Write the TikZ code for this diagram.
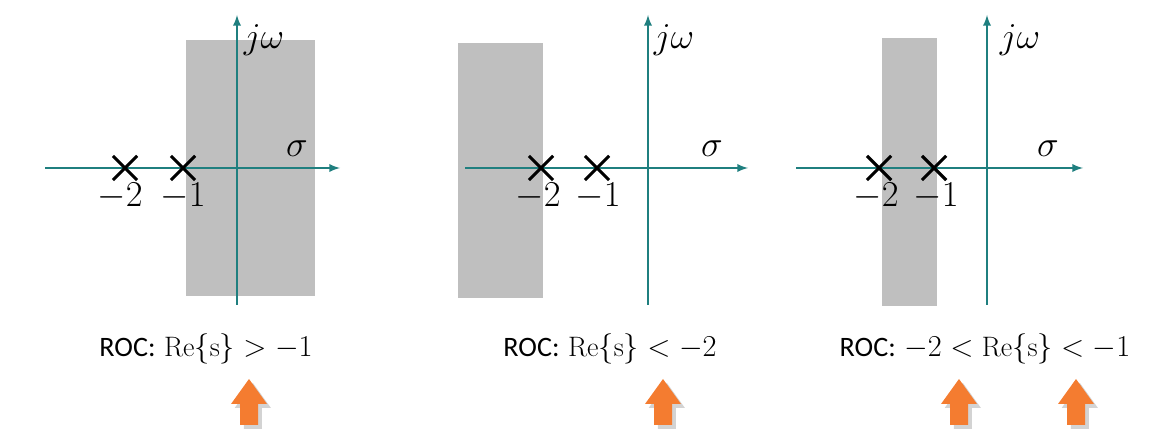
\documentclass[tikz,border=0pt]{standalone}
\usepackage{fontspec}
\newfontfamily\calibri{Carlito}
\usetikzlibrary{shapes.misc, positioning, shadows}
\definecolor{axis}{HTML}{1F7F7F}
\definecolor{roc}{HTML}{BFBFBF}
\definecolor{hint}{HTML}{F47C30}

\begin{document}
\begin{tikzpicture}[
    x=0.02cm, y=-0.02cm,
    >=latex,
    % styles for the pieces that repeat
    region/.style={fill=roc, draw=none},
    ax/.style={draw=axis, line width=1.1pt, ->},
    pole/.style={cross out, draw, line width=1.8pt, minimum size=12pt, inner sep=0pt},
    num/.style={font=\fontsize{20}{20}\selectfont},
    caption/.style={font=\fontsize{16}{19}\selectfont},
    uparrow/.pic={
        \fill[hint, drop shadow={opacity=0.35}]
            (-9,23) -- (-9,2) -- (-18,2) -- (0,-23) -- (18,2) -- (9,2) -- (9,23) -- cycle;
    }
]
    \useasboundingbox (0,0) rectangle (1163,438);

    % --- PANEL 1: Re{s} > -1 ---
    \fill[region] (186,40) rectangle (315,296);
    \draw[ax] (45,168) -- (340,168);
    \draw[ax] (237,305) -- (237,15);
    \node (p1a) [pole] at (125,168) {};
    \node (p1b) [pole] at (183,168) {};
    \node [num] at (120,196) {$-2$};
    \node [num] at (183,196) {$-1$};
    \node [num] at (264,40) {$j\omega$};
    \node [num] at (297,149) {$\sigma$};
    \node (cap1) [caption] at (206,349) {{\calibri ROC:} $\mathrm{Re}\{\mathrm{s}\}>-1$};
    \pic at (249,402) {uparrow};

    % --- PANEL 2: Re{s} < -2 ---
    \fill[region] (458,43) rectangle (543,298);
    \draw[ax] (465,168) -- (748,168);
    \draw[ax] (648,305) -- (648,15);
    \node (p2a) [pole] at (541,168) {};
    \node (p2b) [pole] at (597,168) {};
    \node [num] at (538,196) {$-2$};
    \node [num] at (598,196) {$-1$};
    \node [num] at (674,40) {$j\omega$};
    \node [num] at (712,149) {$\sigma$};
    \node (cap2) [caption] at (610,349) {{\calibri ROC:} $\mathrm{Re}\{\mathrm{s}\}<-2$};
    \pic at (663,402) {uparrow};

    % --- PANEL 3: -2 < Re{s} < -1 ---
    \fill[region] (882,38) rectangle (937,306);
    \draw[ax] (796,168) -- (1083,168);
    \draw[ax] (987,305) -- (987,15);
    \node (p3a) [pole] at (879,168) {};
    \node (p3b) [pole] at (934,168) {};
    \node [num] at (876,196) {$-2$};
    \node [num] at (936,196) {$-1$};
    \node [num] at (1020,40) {$j\omega$};
    \node [num] at (1048,149) {$\sigma$};
    \node (cap3) [caption] at (985,349) {{\calibri ROC:} $-2<\mathrm{Re}\{\mathrm{s}\}<-1$};
    \pic at (959,402) {uparrow};
    \pic at (1076,402) {uparrow};
\end{tikzpicture}
\end{document}
